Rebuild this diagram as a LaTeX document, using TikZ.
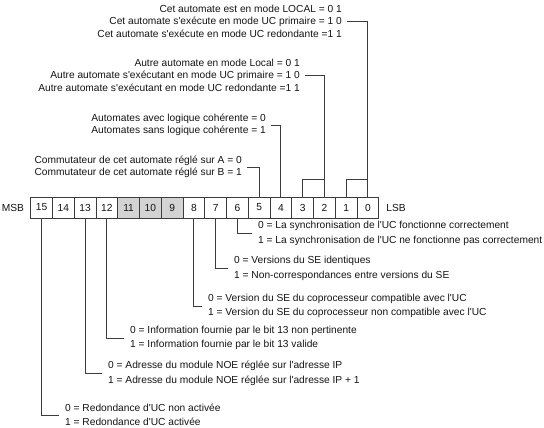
\documentclass[tikz,border=0pt]{standalone}
\usepackage{fontspec}
\setmainfont{Liberation Sans}[Ligatures=TeXOff]
\usetikzlibrary{positioning}
\definecolor{bitTrait}{RGB}{60,60,60}
\definecolor{bitGris}{RGB}{211,211,211}
\definecolor{bitTexte}{RGB}{20,20,20}

\begin{document}
\begin{tikzpicture}[
  x=1pt, y=-1pt, every node/.style={font=\fontsize{10.2}{12.5}\selectfont, text=bitTexte},
  bit/.style={draw=bitTrait, line width=0.8pt, minimum width=21.75pt, minimum height=21pt,
              inner sep=0pt},
  haut/.style={align=right, anchor=east, inner xsep=5pt, inner ysep=0pt},
  bas/.style={align=left, anchor=west, inner xsep=6pt, inner ysep=0pt,
              font=\fontsize{10.2}{14.5}\selectfont},
  lien/.style={draw=bitTrait, line width=0.8pt}
]
\useasboundingbox (0,0) rectangle (544,428);

% registre de bits
\foreach \b/\f in {15/white,14/white,13/white,12/white,11/bitGris,10/bitGris,9/bitGris,8/white,
                   7/white,6/white,5/white,4/white,3/white,2/white,1/white,0/white}
  \node[bit, fill=\f] (b\b) at ({41.6+(15-\b)*21.75},207.5) {\b};
\node (msb) at (13,207.5) {MSB};
\node (lsb) at (396,207.5) {LSB};

% textes du haut
\node[haut] (g1) at (347,21)
     {Cet automate est en mode LOCAL = 0 1\\Cet automate s'exécute en mode UC primaire = 1 0\\Cet automate s'exécute en mode UC redondante =1 1};
\node[haut] (g2) at (305,75)
     {Autre automate en mode Local = 0 1\\Autre automate s'exécutant en mode UC primaire = 1 0\\Autre automate s'exécutant en mode UC redondante =1 1};
\node[haut] (g3) at (271,125)
     {Automates avec logique cohérente = 0\\Automates sans logique cohérente = 1};
\node[haut] (g4) at (247,167)
     {Commutateur de cet automate réglé sur A = 0\\Commutateur de cet automate réglé sur B = 1};

% textes du bas
\node[bas] (l6) at (252,233.5)
     {0 = La synchronisation de l'UC fonctionne correctement\\1 = La synchronisation de l'UC ne fonctionne pas correctement};
\node[bas] (l7) at (228,268.5)
     {0 = Versions du SE identiques\\1 = Non-correspondances entre versions du SE};
\node[bas] (l8) at (202,306)
     {0 = Version du SE du coprocesseur compatible avec l'UC\\1 = Version du SE du coprocesseur non compatible avec l'UC};
\node[bas] (l12) at (124,338)
     {0 = Information fournie par le bit 13 non pertinente\\1 = Information fournie par le bit 13 valide};
\node[bas] (l13) at (102,373.5)
     {0 = Adresse du module NOE réglée sur l'adresse IP\\1 = Adresse du module NOE réglée sur l'adresse IP + 1};
\node[bas] (l15) at (59,415)
     {0 = Redondance d'UC non activée\\1 = Redondance d'UC activée};

% liaisons
\draw[lien] (g1.east) -| (b0.north);
\draw[lien] (b1.north) -- ++(0,-17) -| (b0.north);
\draw[lien] (g2.east) -| (b2.north);
\draw[lien] (b3.north) -- ++(0,-17) -| (b2.north);
\draw[lien] (g3.east) -| (b4.north);
\draw[lien] (g4.east) -| (b5.north);

\draw[lien] (b6.south) |- (l6.west);
\draw[lien] (b7.south) |- (l7.west);
\draw[lien] (b8.south) |- (l8.west);
\draw[lien] (b12.south) |- (l12.west);
\draw[lien] (b13.south) |- (l13.west);
\draw[lien] (b15.south) |- (l15.west);
\end{tikzpicture}
\end{document}
